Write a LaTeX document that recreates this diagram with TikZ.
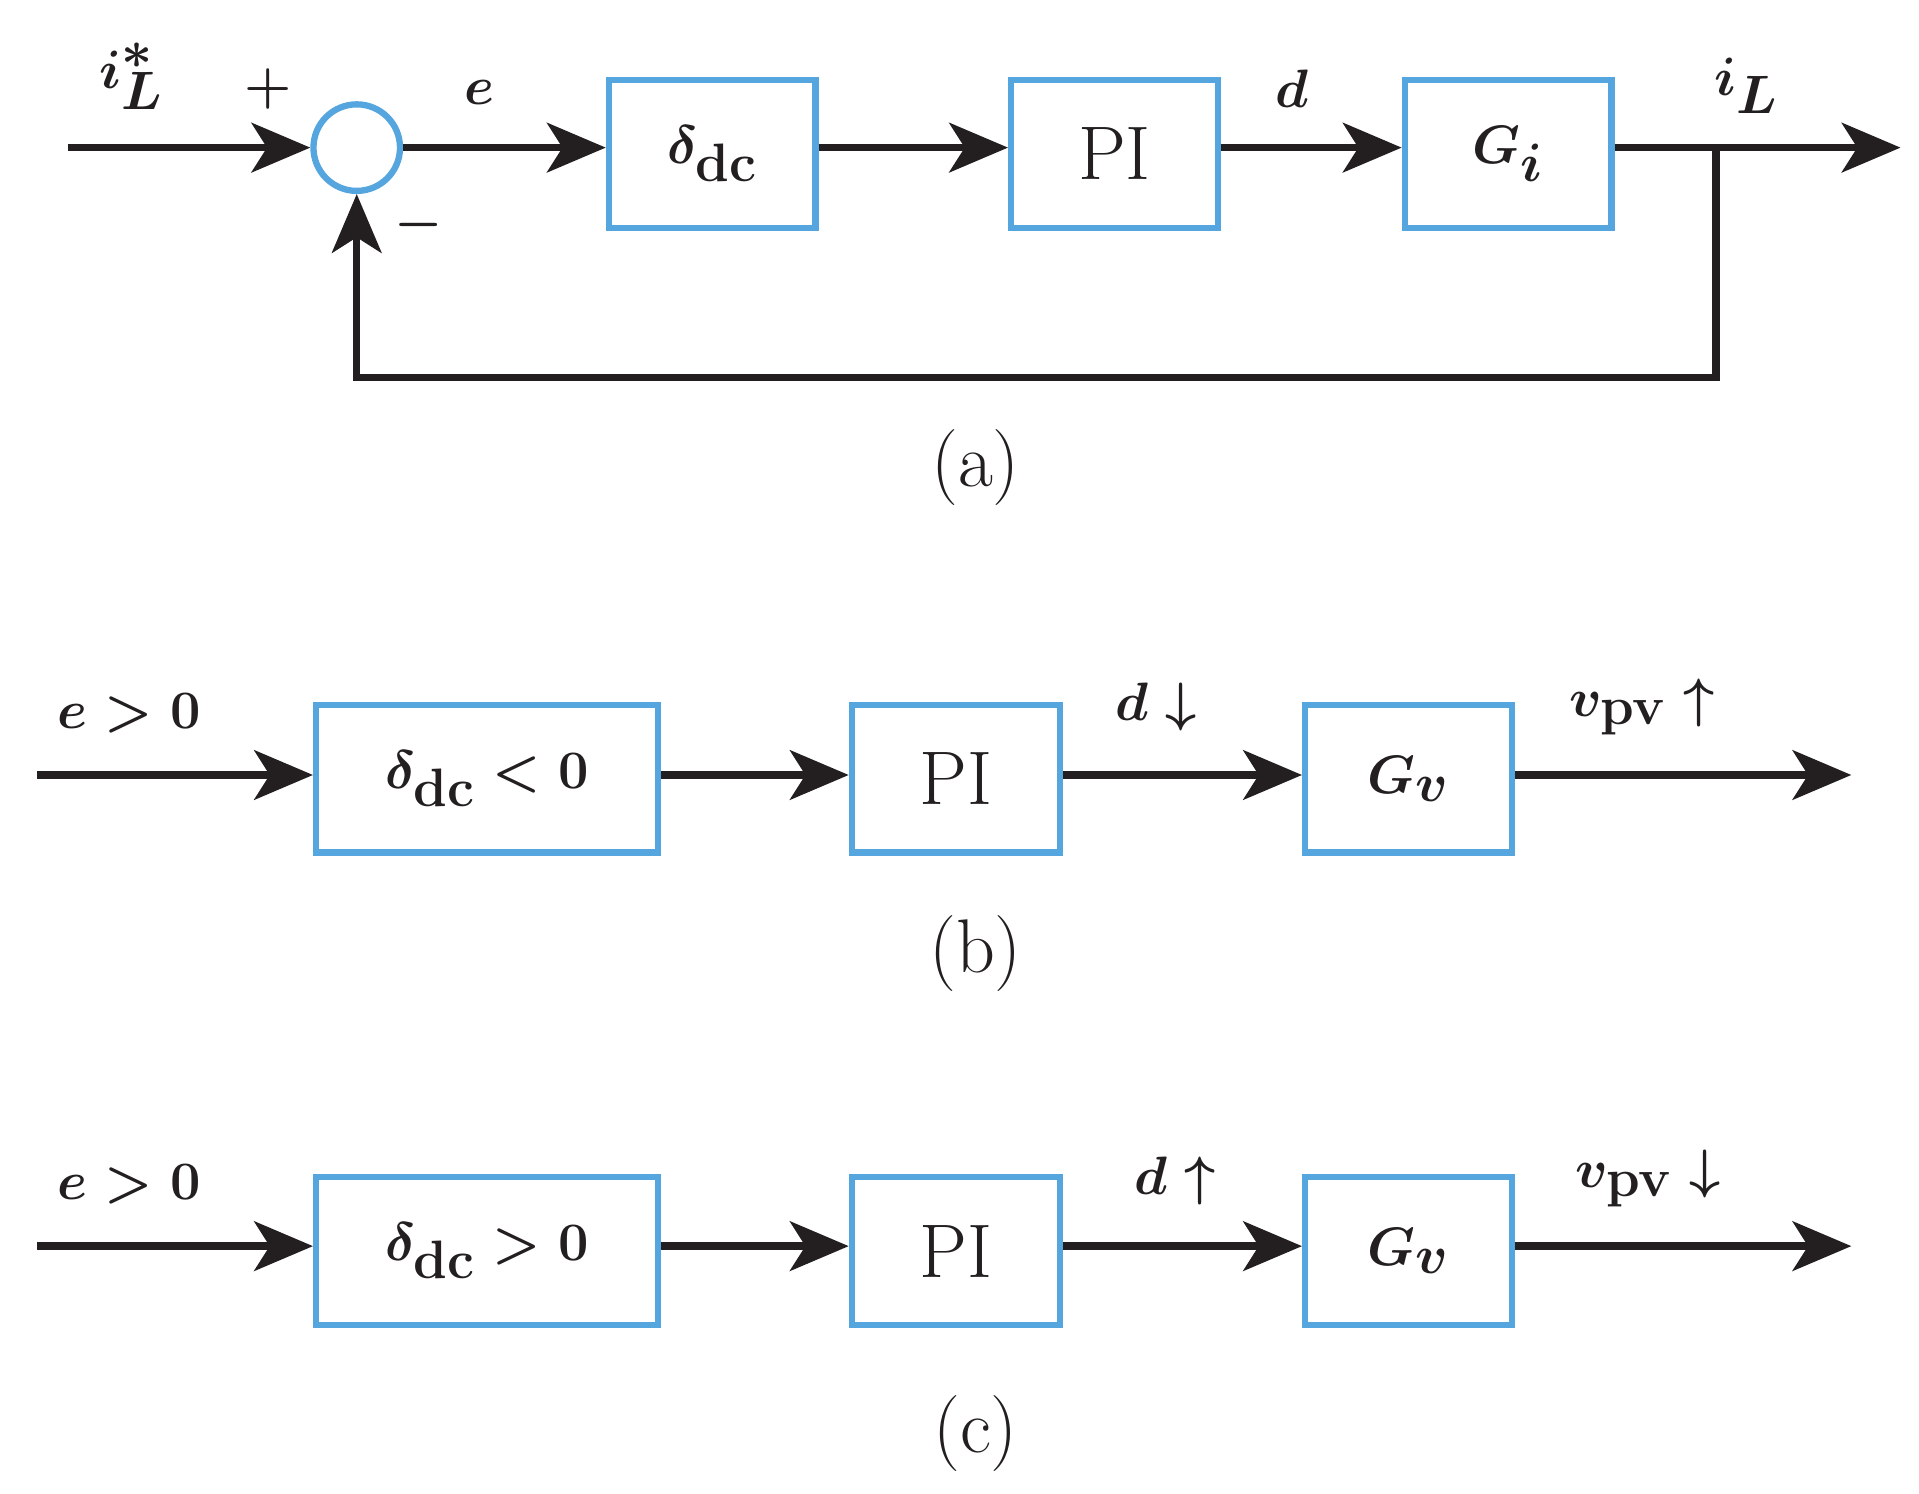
\documentclass[tikz,border=0pt]{standalone}
\usetikzlibrary{arrows.meta}
\definecolor{bblue}{RGB}{85,165,222}
\definecolor{ink}{RGB}{35,31,32}
\begin{document}
\begin{tikzpicture}[x=0.0199cm,y=-0.0199cm,
  blk/.style={draw=bblue,line width=2.9pt,minimum width=#1*0.0199cm,minimum height=2.39cm,inner sep=0pt,font=\fontsize{40}{48}\selectfont\boldmath,text=ink},
  blk/.default=168,
  ln/.style={draw=ink,line width=3.4pt},
  ar/.style={ln,-{Stealth[length=0.95cm,width=0.8cm,inset=0.25cm]}},
  lab/.style={font=\fontsize{40}{48}\selectfont\boldmath,text=ink,inner sep=0pt}]
\useasboundingbox (0,0) rectangle (1560,1214);
% (a)
\coordinate (ain) at (55,120);
\node[circle,draw=bblue,line width=2.9pt,minimum size=1.4cm,inner sep=0pt] (sum) at (290,120) {};
\node[blk] (d1) at (579,125) {$\delta_{\mathrm{dc}}$};
\node[blk,font=\fontsize{35}{40}\selectfont] (p1) at (906,125) {PI};
\node[blk] (g1) at (1226,125) {$G_i$};
\coordinate (aout) at (1545,120);
\coordinate (br) at (1395,120);
\coordinate (fb1) at (1395,307);
\coordinate (fb2) at (290,307);
\draw[ar] (ain) -- (sum.west);
\draw[ar] (sum.east) -- (d1.west|-sum.east);
\draw[ar] (d1.east|-sum) -- (p1.west|-sum);
\draw[ar] (p1.east|-sum) -- (g1.west|-sum);
\draw[ar] (g1.east|-sum) -- (aout);
\draw[ar] (br) -- (fb1) -- (fb2) -- (sum.south);
\node[lab] at (107,62) {$i_L^*$};
\node[lab] at (218,72) {$+$};
\node[lab] at (390,75) {$e$};
\node[lab] at (340,183) {$-$};
\node[lab] at (1050,72) {$d$};
\node[lab] at (1420,70) {$i_L$};
\node[lab,font=\fontsize{35}{40}\selectfont] at (793,380) {(a)};
% (b)
\coordinate (bin) at (30,630);
\node[blk=278] (d2) at (396,633) {$\delta_{\mathrm{dc}}<0$};
\node[blk=169,font=\fontsize{35}{40}\selectfont] (p2) at (777,633) {PI};
\node[blk=168] (g2) at (1145,633) {$G_v$};
\coordinate (bout) at (1505,630);
\draw[ar] (bin) -- (d2.west|-bin);
\draw[ar] (d2.east|-bin) -- (p2.west|-bin);
\draw[ar] (p2.east|-bin) -- (g2.west|-bin);
\draw[ar] (g2.east|-bin) -- (bout);
\node[lab] at (105,580) {$e>0$};
\node[lab] at (940,575) {$d\downarrow$};
\node[lab] at (1335,575) {$v_{\mathrm{pv}}\uparrow$};
\node[lab,font=\fontsize{35}{40}\selectfont] at (793,775) {(b)};
% (c)
\coordinate (cin) at (30,1013);
\node[blk=278] (d3) at (396,1017) {$\delta_{\mathrm{dc}}>0$};
\node[blk=169,font=\fontsize{35}{40}\selectfont] (p3) at (777,1017) {PI};
\node[blk=168] (g3) at (1145,1017) {$G_v$};
\coordinate (cout) at (1505,1013);
\draw[ar] (cin) -- (d3.west|-cin);
\draw[ar] (d3.east|-cin) -- (p3.west|-cin);
\draw[ar] (p3.east|-cin) -- (g3.west|-cin);
\draw[ar] (g3.east|-cin) -- (cout);
\node[lab] at (105,963) {$e>0$};
\node[lab] at (955,960) {$d\uparrow$};
\node[lab] at (1340,958) {$v_{\mathrm{pv}}\downarrow$};
\node[lab,font=\fontsize{35}{40}\selectfont] at (793,1165) {(c)};
\end{tikzpicture}
\end{document}
